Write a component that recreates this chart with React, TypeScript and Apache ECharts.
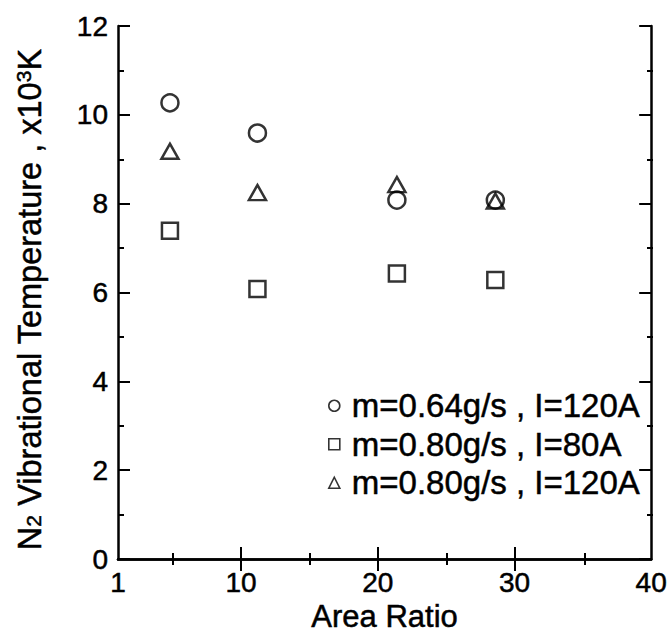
import React, { useEffect, useRef } from "react";
import * as echarts from "echarts";

const areaRatio = [4.8, 11.2, 21.4, 28.6];
const tempM064I120 = [10.27, 9.59, 8.08, 8.08];
const tempM080I80 = [7.39, 6.08, 6.43, 6.28];
const tempM080I120 = [9.18, 8.25, 8.43, 8.06];
const seriesNames = ["m=0.64g/s , I=120A", "m=0.80g/s , I=80A", "m=0.80g/s , I=120A"];
const seriesSymbols = ["circle", "rect", "triangle"];
const xTickLabels = [1, 10, 20, 30, 40];
const xMajorTicks = [10, 20, 30];
const xMinorTicks = [5, 15, 25, 35];
const yMinorTicks = [1, 3, 5, 7, 9, 11];

const FONT = "'Liberation Sans', Arial, Helvetica, sans-serif";
const BLACK = "#000";
const heavy = { textBorderColor: BLACK, textBorderWidth: 0.5 };

export default function App() {
  const ref = useRef<HTMLDivElement>(null);
  useEffect(() => {
    if (!ref.current) return;
    const chart = echarts.init(ref.current, null, { renderer: "svg" });
    const gridBox = { left: 118, right: 17, top: 26, bottom: 79 };
    const lineStyle = { color: BLACK, width: 2.5 };
    const tickLine = { color: BLACK, width: 2 };
    const seriesData = [tempM064I120, tempM080I80, tempM080I120];
    const symbolSizes: any[] = [17, 16, [17, 15]];
    chart.setOption({
      animation: false,
      backgroundColor: "#fff",
      grid: [{ ...gridBox }, { ...gridBox }],
      xAxis: [
        {
          gridIndex: 0, type: "value", position: "bottom", min: 1, max: 40,
          axisLine: { show: true, lineStyle },
          axisTick: { show: true, inside: true, length: 12, customValues: xMajorTicks, lineStyle: tickLine },
          axisLabel: { show: true, customValues: xTickLabels, fontSize: 28, color: BLACK, fontFamily: FONT, margin: 9, showMinLabel: true, showMaxLabel: true, ...heavy },
          splitLine: { show: false },
          name: "Area Ratio", nameLocation: "middle", nameGap: 38,
          nameTextStyle: { fontSize: 31, color: BLACK, fontFamily: FONT, ...heavy },
        },
        {
          gridIndex: 0, type: "value", position: "top", min: 1, max: 40,
          axisLine: { show: true, lineStyle },
          axisTick: { show: true, inside: true, length: 12, customValues: xMajorTicks, lineStyle: tickLine },
          axisLabel: { show: false },
          splitLine: { show: false },
        },
        {
          gridIndex: 1, type: "value", position: "bottom", min: 1, max: 40,
          axisLine: { show: false },
          axisTick: { show: true, inside: true, length: 6, customValues: xMinorTicks, lineStyle: tickLine },
          axisLabel: { show: false },
          splitLine: { show: false },
        },
        {
          gridIndex: 1, type: "value", position: "top", min: 1, max: 40,
          axisLine: { show: false },
          axisTick: { show: true, inside: true, length: 6, customValues: xMinorTicks, lineStyle: tickLine },
          axisLabel: { show: false },
          splitLine: { show: false },
        },
      ],
      yAxis: [
        {
          gridIndex: 0, type: "value", position: "left", min: 0, max: 12, interval: 2,
          axisLine: { show: true, lineStyle },
          axisTick: { show: true, inside: true, length: 12, lineStyle: tickLine },
          axisLabel: { show: true, fontSize: 28, color: BLACK, fontFamily: FONT, margin: 10, ...heavy },
          splitLine: { show: false },
          name: "N{sub|2} Vibrational Temperature , x10{sup|3}K",
          nameLocation: "middle", nameGap: 72, nameRotate: 90,
          nameTextStyle: {
            fontSize: 32.5, color: BLACK, fontFamily: FONT, padding: [0, 14, 0, 0], ...heavy,
            rich: {
              sub: { fontSize: 21, color: BLACK, fontFamily: FONT, verticalAlign: "bottom", padding: [0, 0, 2, 0], ...heavy },
              sup: { fontSize: 21, color: BLACK, fontFamily: FONT, verticalAlign: "top", ...heavy },
            },
          },
        },
        {
          gridIndex: 0, type: "value", position: "right", min: 0, max: 12, interval: 2,
          axisLine: { show: true, lineStyle },
          axisTick: { show: true, inside: true, length: 12, lineStyle: tickLine },
          axisLabel: { show: false },
          splitLine: { show: false },
        },
        {
          gridIndex: 1, type: "value", position: "left", min: 0, max: 12,
          axisLine: { show: false },
          axisTick: { show: true, inside: true, length: 6, customValues: yMinorTicks, lineStyle: tickLine },
          axisLabel: { show: false },
          splitLine: { show: false },
        },
        {
          gridIndex: 1, type: "value", position: "right", min: 0, max: 12,
          axisLine: { show: false },
          axisTick: { show: true, inside: true, length: 6, customValues: yMinorTicks, lineStyle: tickLine },
          axisLabel: { show: false },
          splitLine: { show: false },
        },
      ],
      legend: {
        orient: "vertical", left: 323, top: 384, itemGap: 5,
        itemWidth: 11, itemHeight: 11,
        data: seriesNames.map((n, i) => ({ name: n, icon: seriesSymbols[i] })),
        itemStyle: { color: "transparent", borderColor: BLACK, borderWidth: 1.6 },
        textStyle: { fontSize: 33, color: BLACK, fontFamily: FONT, lineHeight: 33, padding: [0, 0, 0, 7], ...heavy },
      },
      series: seriesNames.map((n, i) => ({
        name: n, type: "scatter", xAxisIndex: 0, yAxisIndex: 0,
        symbol: seriesSymbols[i], symbolSize: symbolSizes[i],
        itemStyle: { color: "transparent", borderColor: BLACK, borderWidth: 2.5 },
        data: areaRatio.map((x, j) => [x, seriesData[i][j]]),
      })),
    });
    return () => chart.dispose();
  }, []);
  return <div ref={ref} style={{ position: "fixed", left: 0, top: 0, width: 670, height: 638 }} />;
}
